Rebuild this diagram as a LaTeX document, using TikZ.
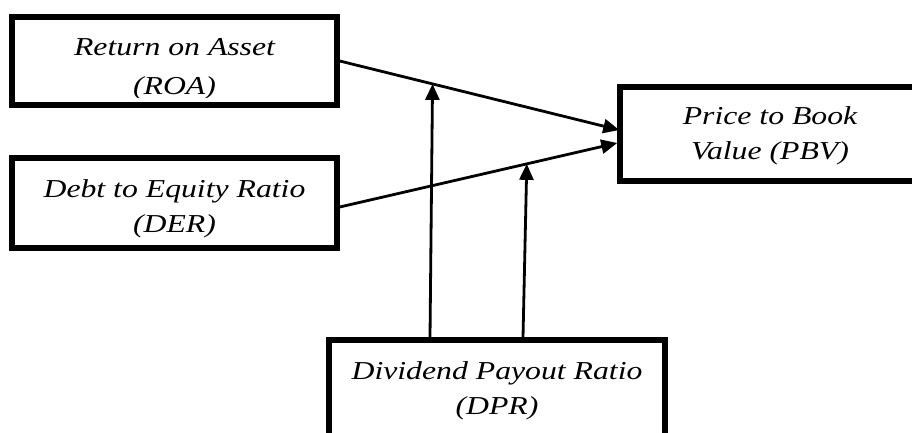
\documentclass[tikz,border=0pt]{standalone}
\usepackage{fontspec}
\newfontfamily\boxfont{Liberation Serif}[FakeStretch=1.23]
\usetikzlibrary{arrows.meta,positioning}

\begin{document}
\begin{tikzpicture}[x=1pt,y=-1pt,
    varbox/.style={draw, line width=5.5pt, inner sep=0pt},
    vartext/.style={align=center, inner sep=0pt,
      font=\boxfont\itshape\fontsize{25.8}{35}\selectfont},
    link/.style={line width=2.8pt, -{Triangle[length=16pt,width=14pt]}}]
\useasboundingbox (0,0) rectangle (912,432);

% boxes
\node[varbox, minimum width=325pt, minimum height=88pt] (roa) at (174.5,61) {};
\node[varbox, minimum width=325pt, minimum height=90pt] (der) at (174.5,203) {};
\node[varbox, minimum width=300pt, minimum height=94pt] (pbv) at (770,134) {};
\node[varbox, minimum width=336pt, minimum height=96pt] (dpr) at (497,388) {};

% labels, base is the last line
\begin{scope}
  \clip (roa.north west) rectangle ([yshift=10pt]roa.south east);
  \node[vartext, anchor=base] at ([yshift=-80pt]roa.north) {Return on Asset\\[4pt](ROA)};
\end{scope}
\node[vartext, anchor=base] at ([yshift=-77pt]der.north) {Debt to Equity Ratio\\(DER)};
\node[vartext, anchor=base] at ([yshift=-75pt]pbv.north) {Price to Book\\Value (PBV)};
\node[vartext, anchor=base] at ([yshift=-77pt]dpr.north) {Dividend Payout Ratio\\(DPR)};

% connectors
\coordinate (pbv-a) at ([xshift=2pt,yshift=4pt]pbv.west);
\coordinate (pbv-b) at ([yshift=-9pt]pbv.west);
\draw[link] (roa.east) -- (pbv-a) coordinate[pos=0.332] (roa-hit);
\draw[link] ([yshift=-4pt]der.east) -- (pbv-b) coordinate[pos=0.674] (der-hit);
\draw[link] ([xshift=-67pt]dpr.north) -- (roa-hit);
\draw[link] ([xshift=26pt]dpr.north) -- (der-hit);

\end{tikzpicture}
\end{document}
